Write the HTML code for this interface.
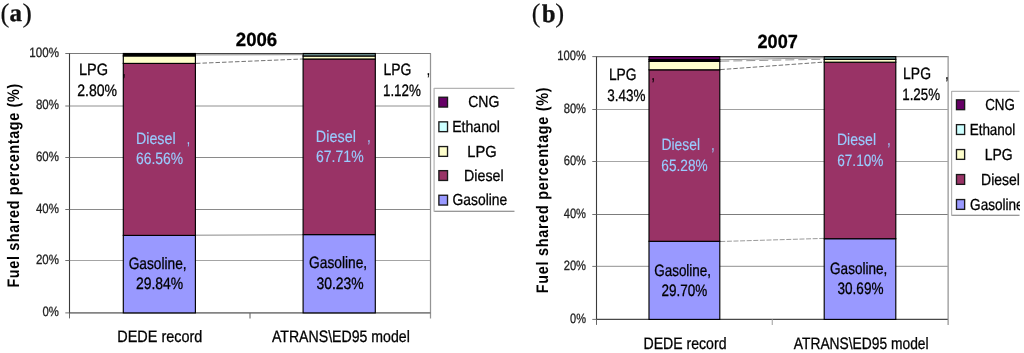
<!DOCTYPE html>
<html><head><meta charset="utf-8"><title>Fuel shared percentage</title>
<style>
html,body{margin:0;padding:0;background:#fff;}
body{width:1024px;height:353px;overflow:hidden;font-family:"Liberation Sans",sans-serif;}
svg{display:block;will-change:transform;}
text{white-space:pre;text-rendering:geometricPrecision;}
</style></head><body>
<svg width="1024" height="353" viewBox="0 0 1024 353">
<rect x="0" y="0" width="1024" height="353" fill="#fff"/>
<defs><clipPath id="ca"><rect x="430" y="80" width="84.8" height="140"/></clipPath><clipPath id="cb"><rect x="948" y="80" width="71.9" height="140"/></clipPath></defs>
<line x1="69.5" y1="106.0" x2="430.5" y2="106.0" stroke="#909090" stroke-width="1"/>
<line x1="69.5" y1="157.5" x2="430.5" y2="157.5" stroke="#8a8a8a" stroke-width="1"/>
<line x1="69.5" y1="209.5" x2="430.5" y2="209.5" stroke="#8a8a8a" stroke-width="1"/>
<line x1="69.5" y1="260.5" x2="430.5" y2="260.5" stroke="#a4a4a4" stroke-width="1.2"/>
<line x1="69.5" y1="53.5" x2="431.0" y2="53.5" stroke="#7a7a7a" stroke-width="1.1"/>
<line x1="430.5" y1="53.5" x2="430.5" y2="318.4" stroke="#949494" stroke-width="1.25"/>
<line x1="69.5" y1="312.9" x2="431.0" y2="312.9" stroke="#848484" stroke-width="1.9"/>
<line x1="69.5" y1="53.1" x2="69.5" y2="313.5" stroke="#3a3a3a" stroke-width="1.1"/>
<line x1="69.5" y1="312.9" x2="69.5" y2="318.4" stroke="#555" stroke-width="0.9"/>
<line x1="65.3" y1="53.5" x2="69.5" y2="53.5" stroke="#707070" stroke-width="1"/>
<line x1="65.3" y1="106.0" x2="69.5" y2="106.0" stroke="#707070" stroke-width="1"/>
<line x1="65.3" y1="157.5" x2="69.5" y2="157.5" stroke="#707070" stroke-width="1"/>
<line x1="65.3" y1="209.5" x2="69.5" y2="209.5" stroke="#707070" stroke-width="1"/>
<line x1="65.3" y1="260.5" x2="69.5" y2="260.5" stroke="#707070" stroke-width="1"/>
<line x1="65.3" y1="312.9" x2="69.5" y2="312.9" stroke="#707070" stroke-width="1"/>
<line x1="250.0" y1="312.9" x2="250.0" y2="318.4" stroke="#686868" stroke-width="1.1"/>
<line x1="196.0" y1="63.4" x2="302.5" y2="59.0" stroke="#1a1a1a" stroke-width="0.62" stroke-dasharray="4.5 2"/>
<line x1="196.0" y1="53.5" x2="302.5" y2="53.5" stroke="#444" stroke-width="1.1"/>
<line x1="196.0" y1="54.9" x2="302.5" y2="54.7" stroke="#858585" stroke-width="1.0"/>
<line x1="195.5" y1="235.2" x2="302.5" y2="234.8" stroke="#8a8a8a" stroke-width="1"/>
<rect x="123.3" y="235.4" width="72.10" height="77.50" fill="#9999ff" stroke="#000" stroke-width="1.15"/>
<rect x="123.3" y="63.4" width="72.10" height="172.00" fill="#993366" stroke="#000" stroke-width="1.15"/>
<rect x="123.3" y="55.9" width="72.10" height="7.50" fill="#ffffcc" stroke="#000" stroke-width="1.15"/>
<rect x="123.3" y="53.5" width="72.10" height="2.40" fill="#000" stroke="#000" stroke-width="1.15"/>
<rect x="303.1" y="234.6" width="72.20" height="78.30" fill="#9999ff" stroke="#000" stroke-width="1.15"/>
<rect x="303.1" y="59.0" width="72.20" height="175.60" fill="#993366" stroke="#000" stroke-width="1.15"/>
<rect x="303.1" y="56.0" width="72.20" height="3.00" fill="#ffffcc" stroke="#000" stroke-width="1.15"/>
<rect x="303.1" y="53.5" width="72.20" height="2.50" fill="#6f9090" stroke="#000" stroke-width="1.15"/>
<text transform="translate(29.37,56.50) scale(0.8570,1)" font-family="Liberation Sans, sans-serif" font-size="13.5" fill="#222" stroke="#222" stroke-width="0.3">100%</text>
<text transform="translate(35.96,109.00) scale(0.8513,1)" font-family="Liberation Sans, sans-serif" font-size="13.5" fill="#222" stroke="#222" stroke-width="0.3">80%</text>
<text transform="translate(35.96,160.50) scale(0.8512,1)" font-family="Liberation Sans, sans-serif" font-size="13.5" fill="#222" stroke="#222" stroke-width="0.3">60%</text>
<text transform="translate(35.95,212.50) scale(0.8516,1)" font-family="Liberation Sans, sans-serif" font-size="13.5" fill="#222" stroke="#222" stroke-width="0.3">40%</text>
<text transform="translate(35.96,263.50) scale(0.8512,1)" font-family="Liberation Sans, sans-serif" font-size="13.5" fill="#222" stroke="#222" stroke-width="0.3">20%</text>
<text transform="translate(42.55,315.90) scale(0.8404,1)" font-family="Liberation Sans, sans-serif" font-size="13.5" fill="#222" stroke="#222" stroke-width="0.3">0%</text>
<text transform="translate(235.82,45.80) scale(0.9789,1)" font-family="Liberation Sans, sans-serif" font-size="19" font-weight="bold" fill="#000" stroke="#000" stroke-width="0.3">2006</text>
<text transform="translate(78.96,75.30) scale(0.8799,1)" font-family="Liberation Sans, sans-serif" font-size="16.5" fill="#000" stroke="#000" stroke-width="0.3">LPG</text>
<text transform="translate(77.15,96.10) scale(0.8529,1)" font-family="Liberation Sans, sans-serif" font-size="16.5" fill="#000" stroke="#000" stroke-width="0.3">2.80%</text>
<text transform="translate(122.24,75.60) scale(0.7059,1)" font-family="Liberation Sans, sans-serif" font-size="17" fill="#000" stroke="#000" stroke-width="0.3">,</text>
<text transform="translate(135.88,143.50) scale(0.8665,1)" font-family="Liberation Sans, sans-serif" font-size="16.5" fill="#99ccff" stroke="#99ccff" stroke-width="0.15">Diesel</text>
<text transform="translate(186.84,143.50) scale(0.7059,1)" font-family="Liberation Sans, sans-serif" font-size="17" fill="#99ccff" stroke="#99ccff" stroke-width="0.15">,</text>
<text transform="translate(135.95,163.90) scale(0.8433,1)" font-family="Liberation Sans, sans-serif" font-size="16.5" fill="#99ccff" stroke="#99ccff" stroke-width="0.15">66.56%</text>
<text transform="translate(128.66,268.60) scale(0.8310,1)" font-family="Liberation Sans, sans-serif" font-size="16.5" fill="#000" stroke="#000" stroke-width="0.3">Gasoline,</text>
<text transform="translate(135.95,289.00) scale(0.8433,1)" font-family="Liberation Sans, sans-serif" font-size="16.5" fill="#000" stroke="#000" stroke-width="0.3">29.84%</text>
<text transform="translate(315.87,141.80) scale(0.8734,1)" font-family="Liberation Sans, sans-serif" font-size="16.5" fill="#99ccff" stroke="#99ccff" stroke-width="0.15">Diesel</text>
<text transform="translate(367.24,141.70) scale(0.7059,1)" font-family="Liberation Sans, sans-serif" font-size="17" fill="#99ccff" stroke="#99ccff" stroke-width="0.15">,</text>
<text transform="translate(315.95,162.10) scale(0.8524,1)" font-family="Liberation Sans, sans-serif" font-size="16.5" fill="#99ccff" stroke="#99ccff" stroke-width="0.15">67.71%</text>
<text transform="translate(309.06,268.40) scale(0.8325,1)" font-family="Liberation Sans, sans-serif" font-size="16.5" fill="#000" stroke="#000" stroke-width="0.3">Gasoline,</text>
<text transform="translate(316.42,288.80) scale(0.8439,1)" font-family="Liberation Sans, sans-serif" font-size="16.5" fill="#000" stroke="#000" stroke-width="0.3">30.23%</text>
<text transform="translate(383.40,75.30) scale(0.8470,1)" font-family="Liberation Sans, sans-serif" font-size="16.5" fill="#000" stroke="#000" stroke-width="0.3">LPG</text>
<text transform="translate(382.93,96.10) scale(0.8121,1)" font-family="Liberation Sans, sans-serif" font-size="16.5" fill="#000" stroke="#000" stroke-width="0.3">1.12%</text>
<text transform="translate(426.84,75.30) scale(0.7059,1)" font-family="Liberation Sans, sans-serif" font-size="17" fill="#000" stroke="#000" stroke-width="0.3">,</text>
<text transform="translate(117.27,342.30) scale(0.8747,1)" font-family="Liberation Sans, sans-serif" font-size="16.5" fill="#000" stroke="#000" stroke-width="0.3">DEDE record</text>
<text transform="translate(271.92,342.30) scale(0.8559,1)" font-family="Liberation Sans, sans-serif" font-size="16.5" fill="#000" stroke="#000" stroke-width="0.3">ATRANS\ED95 model</text>
<g clip-path="url(#ca)">
<line x1="434.1" y1="88.4" x2="514.6" y2="88.4" stroke="#b4b4b4" stroke-width="1.2"/>
<line x1="434.1" y1="211.3" x2="514.6" y2="211.3" stroke="#767676" stroke-width="1.05"/>
<line x1="434.1" y1="87.9" x2="434.1" y2="211.8" stroke="#b4b4b4" stroke-width="1.2"/>
<rect x="438.88" y="97.25" width="8.64" height="9.80" fill="#660066" stroke="#1a1a1a" stroke-width="1.35"/>
<text transform="translate(468.15,107.40) scale(0.8758,1)" font-family="Liberation Sans, sans-serif" font-size="16" fill="#000" stroke="#000" stroke-width="0.3">CNG</text>
<rect x="438.88" y="121.85" width="8.64" height="9.80" fill="#ccffff" stroke="#1a1a1a" stroke-width="1.35"/>
<text transform="translate(452.19,132.00) scale(0.8805,1)" font-family="Liberation Sans, sans-serif" font-size="16" fill="#000" stroke="#000" stroke-width="0.3">Ethanol</text>
<rect x="438.88" y="146.55" width="8.64" height="9.80" fill="#ffffcc" stroke="#1a1a1a" stroke-width="1.35"/>
<text transform="translate(467.35,156.70) scale(0.9175,1)" font-family="Liberation Sans, sans-serif" font-size="16" fill="#000" stroke="#000" stroke-width="0.3">LPG</text>
<rect x="438.88" y="170.65" width="8.64" height="9.80" fill="#993366" stroke="#1a1a1a" stroke-width="1.35"/>
<text transform="translate(464.08,180.80) scale(0.8888,1)" font-family="Liberation Sans, sans-serif" font-size="16" fill="#000" stroke="#000" stroke-width="0.3">Diesel</text>
<rect x="438.88" y="195.25" width="8.64" height="9.80" fill="#9999ff" stroke="#1a1a1a" stroke-width="1.35"/>
<text transform="translate(452.56,205.40) scale(0.8648,1)" font-family="Liberation Sans, sans-serif" font-size="16" fill="#000" stroke="#000" stroke-width="0.3">Gasoline</text>
</g>
<line x1="596.5" y1="109.5" x2="948.15" y2="109.5" stroke="#a0a0a0" stroke-width="1.2"/>
<line x1="596.5" y1="161.5" x2="948.15" y2="161.5" stroke="#a6a6a6" stroke-width="1.2"/>
<line x1="596.5" y1="214.5" x2="948.15" y2="214.5" stroke="#7c7c7c" stroke-width="1"/>
<line x1="596.5" y1="266.4" x2="948.15" y2="266.4" stroke="#a6a6a6" stroke-width="1.2"/>
<line x1="596.5" y1="56.6" x2="948.65" y2="56.6" stroke="#7a7a7a" stroke-width="1.1"/>
<line x1="948.15" y1="56.6" x2="948.15" y2="324.9" stroke="#a6a6a6" stroke-width="1.5"/>
<line x1="596.5" y1="319.29999999999995" x2="947.75" y2="319.29999999999995" stroke="#484848" stroke-width="1.25"/>
<line x1="596.5" y1="56.2" x2="596.5" y2="320.0" stroke="#3a3a3a" stroke-width="1.1"/>
<line x1="596.5" y1="319.4" x2="596.5" y2="324.9" stroke="#555" stroke-width="0.9"/>
<line x1="592.3" y1="56.6" x2="596.5" y2="56.6" stroke="#707070" stroke-width="1"/>
<line x1="592.3" y1="109.5" x2="596.5" y2="109.5" stroke="#707070" stroke-width="1"/>
<line x1="592.3" y1="161.5" x2="596.5" y2="161.5" stroke="#707070" stroke-width="1"/>
<line x1="592.3" y1="214.5" x2="596.5" y2="214.5" stroke="#707070" stroke-width="1"/>
<line x1="592.3" y1="266.4" x2="596.5" y2="266.4" stroke="#707070" stroke-width="1"/>
<line x1="592.3" y1="319.4" x2="596.5" y2="319.4" stroke="#707070" stroke-width="1"/>
<line x1="772.325" y1="319.4" x2="772.325" y2="324.9" stroke="#b4b4b4" stroke-width="1.3"/>
<line x1="720.3" y1="69.6" x2="823.7" y2="62.1" stroke="#1a1a1a" stroke-width="0.62" stroke-dasharray="4.5 2"/>
<line x1="720.3" y1="56.6" x2="823.7" y2="56.6" stroke="#555" stroke-width="1.2"/>
<line x1="720.3" y1="61.2" x2="823.7" y2="59.2" stroke="#777" stroke-width="0.8" stroke-dasharray="9 4"/>
<line x1="720.3" y1="59.8" x2="823.7" y2="57.8" stroke="#888" stroke-width="0.9"/>
<line x1="720.3" y1="241.5" x2="823.7" y2="238.4" stroke="#555" stroke-width="0.6" stroke-dasharray="5 1.6"/>
<rect x="649.0" y="241.3" width="70.80" height="78.10" fill="#9999ff" stroke="#000" stroke-width="1.15"/>
<rect x="649.0" y="69.8" width="70.80" height="171.50" fill="#993366" stroke="#000" stroke-width="1.15"/>
<rect x="649.0" y="61.4" width="70.80" height="8.40" fill="#ffffcc" stroke="#000" stroke-width="1.15"/>
<rect x="649.0" y="59.6" width="70.80" height="1.80" fill="#000" stroke="#000" stroke-width="1.15"/>
<rect x="649.0" y="56.6" width="70.80" height="3.00" fill="#660066" stroke="#000" stroke-width="1.15"/>
<rect x="824.2" y="238.7" width="71.60" height="80.70" fill="#9999ff" stroke="#000" stroke-width="1.15"/>
<rect x="824.2" y="62.2" width="71.60" height="176.50" fill="#993366" stroke="#000" stroke-width="1.15"/>
<rect x="824.2" y="59.4" width="71.60" height="2.80" fill="#ffffcc" stroke="#000" stroke-width="1.15"/>
<rect x="824.2" y="56.6" width="71.60" height="2.80" fill="#5f8080" stroke="#000" stroke-width="1.15"/>
<text transform="translate(557.30,59.70) scale(0.8328,1)" font-family="Liberation Sans, sans-serif" font-size="13.5" fill="#222" stroke="#222" stroke-width="0.3">100%</text>
<text transform="translate(563.70,112.60) scale(0.8271,1)" font-family="Liberation Sans, sans-serif" font-size="13.5" fill="#222" stroke="#222" stroke-width="0.3">80%</text>
<text transform="translate(563.70,164.60) scale(0.8269,1)" font-family="Liberation Sans, sans-serif" font-size="13.5" fill="#222" stroke="#222" stroke-width="0.3">60%</text>
<text transform="translate(563.69,217.60) scale(0.8273,1)" font-family="Liberation Sans, sans-serif" font-size="13.5" fill="#222" stroke="#222" stroke-width="0.3">40%</text>
<text transform="translate(563.70,269.50) scale(0.8269,1)" font-family="Liberation Sans, sans-serif" font-size="13.5" fill="#222" stroke="#222" stroke-width="0.3">20%</text>
<text transform="translate(570.11,322.50) scale(0.8162,1)" font-family="Liberation Sans, sans-serif" font-size="13.5" fill="#222" stroke="#222" stroke-width="0.3">0%</text>
<text transform="translate(757.53,48.20) scale(0.9532,1)" font-family="Liberation Sans, sans-serif" font-size="19" font-weight="bold" fill="#000" stroke="#000" stroke-width="0.3">2007</text>
<text transform="translate(608.92,80.10) scale(0.8372,1)" font-family="Liberation Sans, sans-serif" font-size="16.5" fill="#000" stroke="#000" stroke-width="0.3">LPG</text>
<text transform="translate(607.34,100.60) scale(0.8163,1)" font-family="Liberation Sans, sans-serif" font-size="16.5" fill="#000" stroke="#000" stroke-width="0.3">3.43%</text>
<text transform="translate(651.54,80.10) scale(0.7059,1)" font-family="Liberation Sans, sans-serif" font-size="17" fill="#000" stroke="#000" stroke-width="0.3">,</text>
<text transform="translate(661.41,150.20) scale(0.8434,1)" font-family="Liberation Sans, sans-serif" font-size="16.5" fill="#99ccff" stroke="#99ccff" stroke-width="0.15">Diesel</text>
<text transform="translate(711.34,150.20) scale(0.7059,1)" font-family="Liberation Sans, sans-serif" font-size="17" fill="#99ccff" stroke="#99ccff" stroke-width="0.15">,</text>
<text transform="translate(661.37,170.90) scale(0.8268,1)" font-family="Liberation Sans, sans-serif" font-size="16.5" fill="#99ccff" stroke="#99ccff" stroke-width="0.15">65.28%</text>
<text transform="translate(654.18,275.70) scale(0.8162,1)" font-family="Liberation Sans, sans-serif" font-size="16.5" fill="#000" stroke="#000" stroke-width="0.3">Gasoline,</text>
<text transform="translate(661.38,296.00) scale(0.8176,1)" font-family="Liberation Sans, sans-serif" font-size="16.5" fill="#000" stroke="#000" stroke-width="0.3">29.70%</text>
<text transform="translate(836.89,144.70) scale(0.8549,1)" font-family="Liberation Sans, sans-serif" font-size="16.5" fill="#99ccff" stroke="#99ccff" stroke-width="0.15">Diesel</text>
<text transform="translate(887.24,144.70) scale(0.7059,1)" font-family="Liberation Sans, sans-serif" font-size="17" fill="#99ccff" stroke="#99ccff" stroke-width="0.15">,</text>
<text transform="translate(837.17,165.60) scale(0.8268,1)" font-family="Liberation Sans, sans-serif" font-size="16.5" fill="#99ccff" stroke="#99ccff" stroke-width="0.15">67.10%</text>
<text transform="translate(830.07,273.60) scale(0.8206,1)" font-family="Liberation Sans, sans-serif" font-size="16.5" fill="#000" stroke="#000" stroke-width="0.3">Gasoline,</text>
<text transform="translate(837.54,294.30) scale(0.8201,1)" font-family="Liberation Sans, sans-serif" font-size="16.5" fill="#000" stroke="#000" stroke-width="0.3">30.69%</text>
<text transform="translate(903.11,79.00) scale(0.8438,1)" font-family="Liberation Sans, sans-serif" font-size="16.5" fill="#000" stroke="#000" stroke-width="0.3">LPG</text>
<text transform="translate(902.23,99.70) scale(0.8099,1)" font-family="Liberation Sans, sans-serif" font-size="16.5" fill="#000" stroke="#000" stroke-width="0.3">1.25%</text>
<text transform="translate(945.34,79.00) scale(0.7059,1)" font-family="Liberation Sans, sans-serif" font-size="17" fill="#000" stroke="#000" stroke-width="0.3">,</text>
<text transform="translate(643.50,348.50) scale(0.8536,1)" font-family="Liberation Sans, sans-serif" font-size="16.5" fill="#000" stroke="#000" stroke-width="0.3">DEDE record</text>
<text transform="translate(793.82,348.50) scale(0.8365,1)" font-family="Liberation Sans, sans-serif" font-size="16.5" fill="#000" stroke="#000" stroke-width="0.3">ATRANS\ED95 model</text>
<g clip-path="url(#cb)">
<line x1="951.6" y1="91.4" x2="1019.5" y2="91.4" stroke="#b4b4b4" stroke-width="1.2"/>
<line x1="951.6" y1="215.3" x2="1019.5" y2="215.3" stroke="#767676" stroke-width="1.05"/>
<line x1="951.6" y1="90.9" x2="951.6" y2="215.8" stroke="#b4b4b4" stroke-width="1.2"/>
<rect x="956.4799999999999" y="99.85000000000001" width="8.14" height="9.80" fill="#660066" stroke="#1a1a1a" stroke-width="1.35"/>
<text transform="translate(985.18,110.00) scale(0.8341,1)" font-family="Liberation Sans, sans-serif" font-size="16" fill="#000" stroke="#000" stroke-width="0.3">CNG</text>
<rect x="956.4799999999999" y="124.65" width="8.14" height="9.80" fill="#ccffff" stroke="#1a1a1a" stroke-width="1.35"/>
<text transform="translate(969.65,134.80) scale(0.8419,1)" font-family="Liberation Sans, sans-serif" font-size="16" fill="#000" stroke="#000" stroke-width="0.3">Ethanol</text>
<rect x="956.4799999999999" y="149.55" width="8.14" height="9.80" fill="#ffffcc" stroke="#1a1a1a" stroke-width="1.35"/>
<text transform="translate(984.70,159.70) scale(0.8735,1)" font-family="Liberation Sans, sans-serif" font-size="16" fill="#000" stroke="#000" stroke-width="0.3">LPG</text>
<rect x="956.4799999999999" y="174.55" width="8.14" height="9.80" fill="#993366" stroke="#1a1a1a" stroke-width="1.35"/>
<text transform="translate(981.11,184.70) scale(0.8721,1)" font-family="Liberation Sans, sans-serif" font-size="16" fill="#000" stroke="#000" stroke-width="0.3">Diesel</text>
<rect x="956.4799999999999" y="199.55" width="8.14" height="9.80" fill="#9999ff" stroke="#1a1a1a" stroke-width="1.35"/>
<text transform="translate(970.07,209.70) scale(0.8486,1)" font-family="Liberation Sans, sans-serif" font-size="16" fill="#000" stroke="#000" stroke-width="0.3">Gasoline</text>
</g>
<text transform="translate(0.54,21.50) scale(0.9829,1)" font-family="Liberation Serif, sans-serif" font-size="27" fill="#111" stroke="#111" stroke-width="0.2">(</text>
<text transform="translate(9.55,21.40) scale(1.0159,1)" font-family="Liberation Serif, sans-serif" font-size="24.5" font-weight="bold" fill="#111" stroke="#111" stroke-width="0.35">a</text>
<text transform="translate(22.44,21.50) scale(1.0479,1)" font-family="Liberation Serif, sans-serif" font-size="27" fill="#111" stroke="#111" stroke-width="0.2">)</text>
<text transform="translate(531.87,21.50) scale(0.9544,1)" font-family="Liberation Serif, sans-serif" font-size="27" fill="#111" stroke="#111" stroke-width="0.2">(</text>
<text transform="translate(541.96,21.50) scale(0.9568,1)" font-family="Liberation Serif, sans-serif" font-size="25.3" font-weight="bold" fill="#111" stroke="#111" stroke-width="0.4">b</text>
<text transform="translate(555.29,21.50) scale(0.9905,1)" font-family="Liberation Serif, sans-serif" font-size="27" fill="#111" stroke="#111" stroke-width="0.2">)</text>
<text transform="translate(19.00,287.55) rotate(-90) scale(0.8600,1)" font-family="Liberation Sans, sans-serif" font-size="16.7" font-weight="bold" letter-spacing="0.758" fill="#000">Fuel shared percentage (%)</text>
<text transform="translate(547.50,293.15) rotate(-90) scale(0.8600,1)" font-family="Liberation Sans, sans-serif" font-size="16.7" font-weight="bold" letter-spacing="0.851" fill="#000">Fuel shared percentage (%)</text>
</svg>
</body></html>
